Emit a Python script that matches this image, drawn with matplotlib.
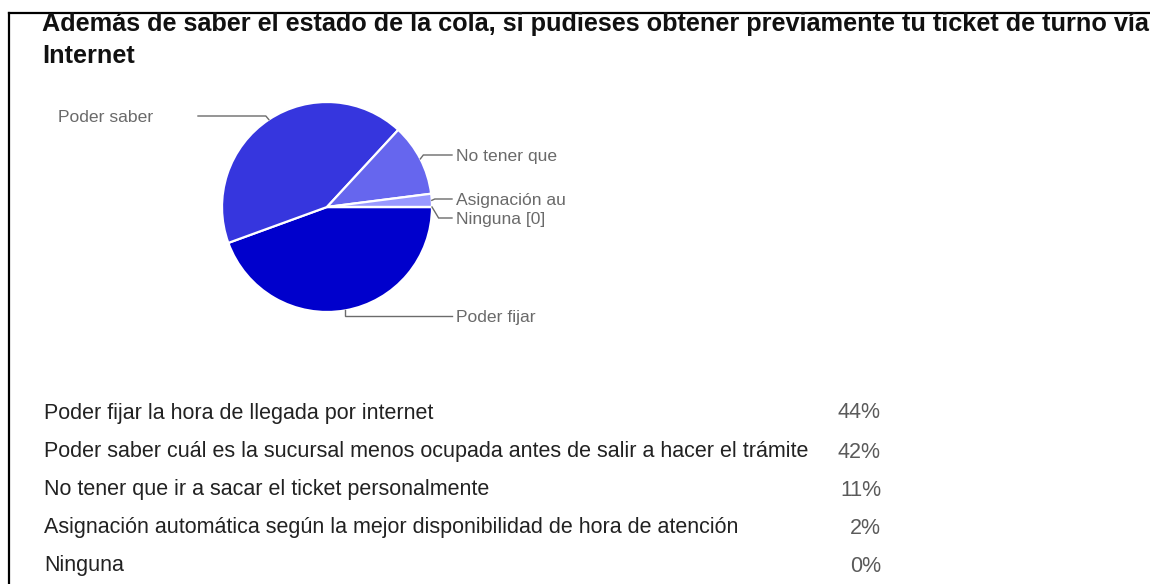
import matplotlib
matplotlib.use("Agg")
import matplotlib.pyplot as plt
import numpy as np

# Survey answers
short_labels = ["Poder fijar", "Poder saber", "No tener que", "Asignación au", "Ninguna [0]"]
full_labels = [
    "Poder fijar la hora de llegada por internet",
    "Poder saber cuál es la sucursal menos ocupada antes de salir a hacer el trámite",
    "No tener que ir a sacar el ticket personalmente",
    "Asignación automática según la mejor disponibilidad de hora de atención",
    "Ninguna",
]
percentages = [44, 42, 11, 2, 0]
colors = ["#0000CC", "#3636DE", "#6666EE", "#9999FF", "#CCCCFF"]
title_lines = [
    "Además de saber el estado de la cola, si pudieses obtener previamente tu ticket de turno vía",
    "Internet",
]

plt.rcParams["font.family"] = ["Liberation Sans", "DejaVu Sans"]

W, H = 1150, 584
fig = plt.figure(figsize=(W / 100, H / 100), dpi=100)
fig.patch.set_facecolor("white")

# Single overlay axes in pixel units (y pointing down)
ax = fig.add_axes([0, 0, 1, 1])

# Pie (counterclockwise in data units appears clockwise because y is inverted)
cx, cy, r = 327, 207, 105
wedges, _ = ax.pie(percentages, colors=colors, startangle=0, counterclock=True,
                   center=(cx, cy), radius=r, frame=True,
                   wedgeprops=dict(edgecolor="white", linewidth=1.6))
ax.set_xlim(0, W)
ax.set_ylim(H, 0)
ax.set_aspect("equal")
ax.axis("off")

# Frame lines
ax.plot([9, 9], [13, H + 5], color="black", lw=1.6, solid_capstyle="projecting")
ax.plot([9, W + 5], [13, 13], color="black", lw=1.6, solid_capstyle="projecting")

# Title (two lines, the first runs past the right edge)
for line, y in zip(title_lines, [31, 63]):
    ax.text(42, y, line, fontsize=18.2, fontweight="bold", color="#111111",
            ha="left", va="baseline", clip_on=False)

# Leader lines and labels
label_y = [316, 116, 155, 199, 218]
sides = ["right", "left", "right", "right", "right"]
right_x_end, left_x_end = 452, 198
line_col = "#6b6b6b"
for w, lab, ly, side in zip(wedges, short_labels, label_y, sides):
    mid = np.deg2rad((w.theta1 + w.theta2) / 2.0)
    sx, sy = cx + r * np.cos(mid), cy + r * np.sin(mid)
    if side == "right":
        if lab == "Poder fijar":
            ex = sx
        else:
            ex = sx + max(3, abs(ly - sy) * 0.6)
        ax.plot([sx, ex, right_x_end], [sy, ly, ly], color=line_col, lw=1.0,
                solid_joinstyle="miter")
        ax.text(right_x_end + 4, ly + 1.5, lab, fontsize=12.6, color="#6a6a6a",
                ha="left", va="center")
    else:
        ex = sx - 3
        ax.plot([sx, ex, left_x_end], [sy, ly, ly], color=line_col, lw=1.0)
        ax.text(58, ly + 1.5, lab, fontsize=12.6, color="#6a6a6a",
                ha="left", va="center")

# Summary table
row_y = [413, 452, 490, 528, 566]
for lab, pct, y in zip(full_labels, percentages, row_y):
    ax.text(44, y, lab, fontsize=15.5, color="#222222", ha="left", va="center")
    ax.text(881, y, f"{pct}%", fontsize=15.5, color="#5a5a5a", ha="right", va="center")

fig.savefig("out.png", dpi=100, facecolor="white")
